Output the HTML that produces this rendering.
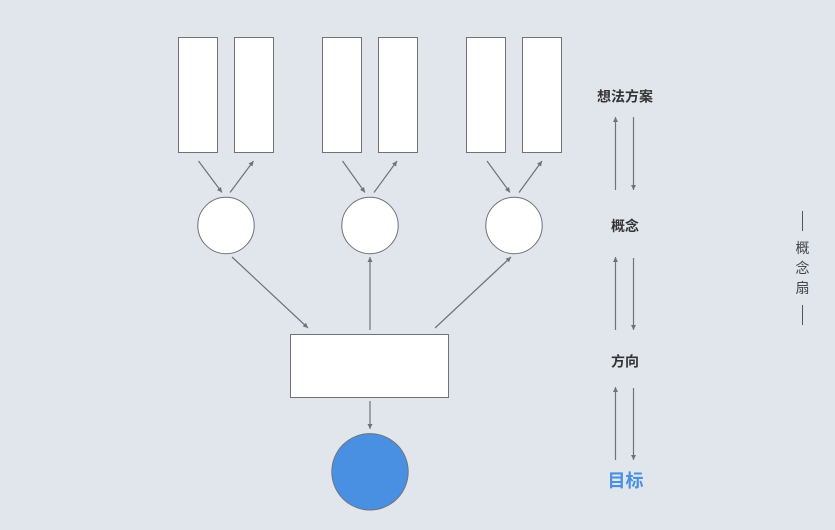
<!DOCTYPE html>
<html>
<head>
<meta charset="utf-8">
<style>
  html,body{margin:0;padding:0;}
  body{width:835px;height:530px;background:#e1e6ed;overflow:hidden;}
  svg{display:block;}
  .t{font-family:"Liberation Sans","Noto Sans CJK SC",sans-serif;}
</style>
</head>
<body>
<svg width="835" height="530" viewBox="0 0 835 530" xmlns="http://www.w3.org/2000/svg">
  <defs>
    <marker id="ah" viewBox="0 0 10 10" refX="10" refY="5" markerWidth="6" markerHeight="5" markerUnits="userSpaceOnUse" orient="auto">
      <path d="M0,0 L10,5 L0,10 z" fill="#707276"/>
    </marker>
  </defs>
  <rect x="0" y="0" width="835" height="530" fill="#e1e6ed"/>

  <g fill="#ffffff" stroke="#707276" stroke-width="1">
    <rect x="178.5" y="37.5" width="39" height="115"/>
    <rect x="234.5" y="37.5" width="39" height="115"/>
    <rect x="322.5" y="37.5" width="39" height="115"/>
    <rect x="378.5" y="37.5" width="39" height="115"/>
    <rect x="466.5" y="37.5" width="39" height="115"/>
    <rect x="522.5" y="37.5" width="39" height="115"/>
    <circle cx="226" cy="225.5" r="28.2"/>
    <circle cx="370" cy="225.5" r="28.2"/>
    <circle cx="514" cy="225.5" r="28.2"/>
    <rect x="290.5" y="334.5" width="158" height="63"/>
  </g>
  <circle cx="370" cy="471.8" r="38.2" fill="#4a90e2" stroke="#707276" stroke-width="1"/>

  <g stroke="#707276" stroke-width="1.2" fill="none" marker-end="url(#ah)">
    <line x1="198.5" y1="161" x2="222" y2="192.5"/>
    <line x1="230" y1="192.5" x2="253.5" y2="161"/>
    <line x1="342.5" y1="161" x2="365" y2="192.5"/>
    <line x1="374" y1="192.5" x2="397" y2="161"/>
    <line x1="487" y1="161" x2="510" y2="192.5"/>
    <line x1="519" y1="192.5" x2="542" y2="161"/>

    <line x1="232" y1="257" x2="308" y2="328"/>
    <line x1="370" y1="330" x2="370" y2="257"/>
    <line x1="435" y1="328" x2="511" y2="257"/>

    <line x1="370" y1="401" x2="370" y2="429"/>

    <line x1="615.5" y1="190" x2="615.5" y2="117"/>
    <line x1="633.5" y1="117" x2="633.5" y2="190"/>
    <line x1="615.5" y1="330" x2="615.5" y2="257"/>
    <line x1="633.5" y1="258" x2="633.5" y2="330"/>
    <line x1="615.5" y1="460" x2="615.5" y2="387"/>
    <line x1="633.5" y1="388" x2="633.5" y2="460"/>
  </g>

  <g class="t" font-weight="bold" fill="#333333" font-size="14" text-anchor="middle">
    <text x="625" y="101.5">想法方案</text>
    <text x="625" y="231">概念</text>
    <text x="625" y="366.5">方向</text>
  </g>
  <text class="t" x="625.5" y="487" font-size="18" font-weight="bold" fill="#4a90e2" text-anchor="middle">目标</text>

  <g stroke="#555555" stroke-width="1">
    <line x1="802.5" y1="211" x2="802.5" y2="231"/>
    <line x1="802.5" y1="305" x2="802.5" y2="325"/>
  </g>
  <g class="t" font-size="14" fill="#444444" text-anchor="middle">
    <text x="802.5" y="253">概</text>
    <text x="802.5" y="273">念</text>
    <text x="802.5" y="293">扇</text>
  </g>
</svg>
</body>
</html>
